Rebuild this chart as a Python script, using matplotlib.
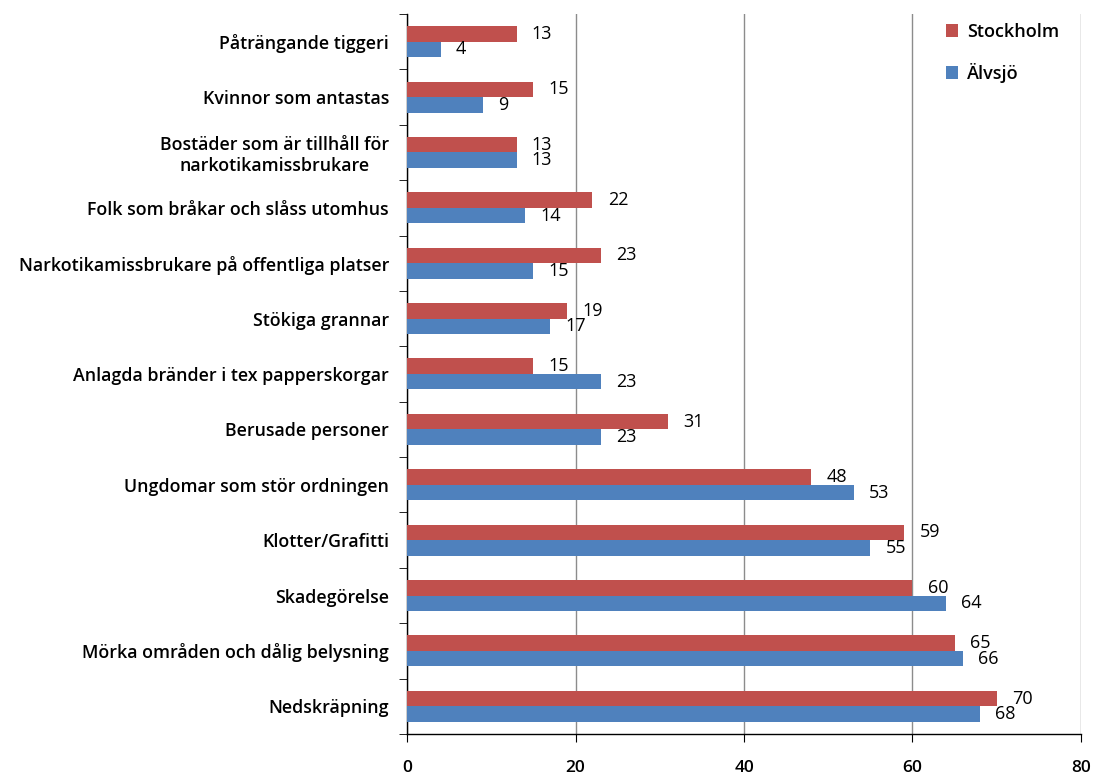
import matplotlib.pyplot as plt
import numpy as np

categories = [
    'Påträngande tiggeri',
    'Kvinnor som antastas',
    'Bostäder som är tillhåll för\nnarkotikamissbrukare',
    'Folk som bråkar och slåss utomhus',
    'Narkotikamissbrukare på offentliga platser',
    'Stökiga grannar',
    'Anlagda bränder i tex papperskorgar',
    'Berusade personer',
    'Ungdomar som stör ordningen',
    'Klotter/Grafitti',
    'Skadegörelse',
    'Mörka områden och dålig belysning',
    'Nedskräpning',
]
stockholm = [13, 15, 13, 22, 23, 19, 15, 31, 48, 59, 60, 65, 70]
alvsjo = [4, 9, 13, 14, 15, 17, 23, 23, 53, 55, 64, 66, 68]
xticks = [0, 20, 40, 60, 80]

plt.rcParams['font.family'] = ['Open Sans', 'DejaVu Sans']

fig = plt.figure(figsize=(11.01, 7.78), dpi=100)
ax = fig.add_axes([0.3697, 0.0566, 0.6121, 0.9254])

n = len(categories)
y = np.arange(n)
h = 0.28
red = '#C0504D'
blue = '#4F81BD'

b1 = ax.barh(y - h / 2, stockholm, height=h, color=red, label='Stockholm', zorder=3)
b2 = ax.barh(y + h / 2, alvsjo, height=h, color=blue, label='Älvsjö', zorder=3)

# value labels to the right of each bar (13/13 overlaps like in the original)
for bars, vals in ((b1, stockholm), (b2, alvsjo)):
    for bar, v in zip(bars, vals):
        ax.annotate(str(v), (v, bar.get_y() + bar.get_height() / 2),
                    xytext=(11, 0), textcoords='offset points',
                    ha='left', va='center', fontsize=13)

ax.set_xlim(0, 80)
ax.set_ylim(n - 0.5, -0.5)
ax.set_xticks(xticks)
ax.set_xticklabels([str(t) for t in xticks], fontsize=12.5, weight='semibold')
ax.tick_params(axis='x', length=6, pad=13, direction='out')

ax.set_yticks(y)
ax.set_yticklabels(categories, fontsize=12.8, weight='semibold', ha='right',
                   multialignment='center')
ax.tick_params(axis='y', length=0, pad=13)
ax.set_yticks(np.arange(n + 1) - 0.5, minor=True)
ax.tick_params(axis='y', which='minor', length=6, direction='out')

ax.grid(axis='x', color='#8c8c8c', linewidth=1, zorder=0)
ax.set_axisbelow(True)
for s in ('top', 'right'):
    ax.spines[s].set_visible(False)
for s in ('left', 'bottom'):
    ax.spines[s].set_color('black')
    ax.spines[s].set_linewidth(1)

ax.legend(loc='upper right', bbox_to_anchor=(0.992, 1.01), frameon=False,
          handlelength=0.7, handleheight=0.7, labelspacing=1.2,
          handletextpad=0.5, prop={'weight': 'semibold', 'size': 13})

fig.savefig('out.png', dpi=100)
